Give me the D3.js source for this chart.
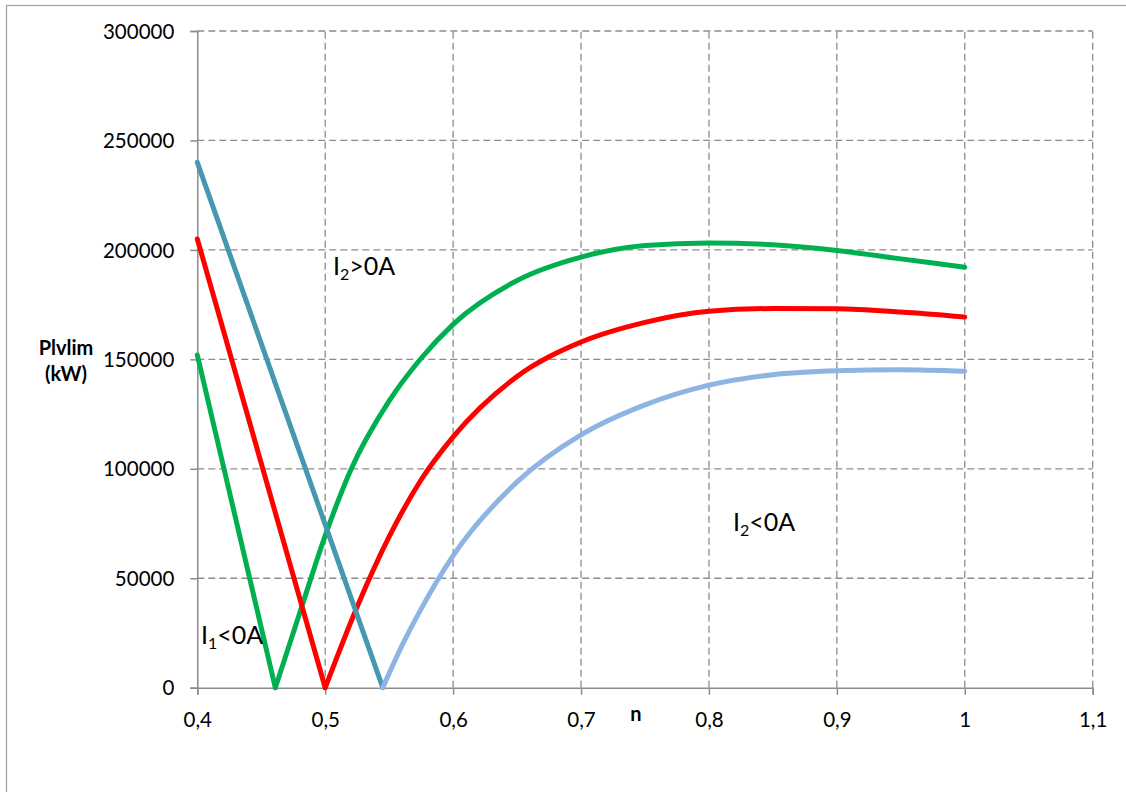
<!DOCTYPE html>
<meta charset="utf-8">
<style>
  body { margin: 0; background: #fff; }
  svg { font-family: Lato, "Open Sans", sans-serif; }
</style>
<body>
<script src="https://cdnjs.cloudflare.com/ajax/libs/d3/7.8.5/d3.min.js"></script>
<script>

    // axis ticks
    var xTicks = [0.4, 0.5, 0.6, 0.7, 0.8, 0.9, 1.0, 1.1];
    var xTickLabels = ["0,4", "0,5", "0,6", "0,7", "0,8", "0,9", "1", "1,1"];
    var yTicks = [0, 50000, 100000, 150000, 200000, 250000, 300000];

    // green series
    var greenFallN = [0.4, 0.461];
    var greenFallP = [152000, 0];
    var greenRiseN = [0.461, 0.48, 0.5, 0.52, 0.55, 0.575, 0.6, 0.65, 0.7, 0.75, 0.8, 0.85, 0.9, 0.95, 1.0];
    var greenRiseP = [0, 34000, 69500, 99500, 131000, 150500, 166000, 186000, 196700, 202000, 203200, 202300, 199700, 195900, 192100];

    // red series
    var redFallN = [0.4, 0.5];
    var redFallP = [205000, 0];
    var redRiseN = [0.5, 0.525, 0.55, 0.575, 0.6, 0.65, 0.7, 0.75, 0.8, 0.85, 0.9, 0.95, 1.0];
    var redRiseP = [0, 37000, 69000, 95000, 114600, 142200, 157900, 166900, 172000, 173200, 173100, 171600, 169300];

    // teal falling / light blue rising
    var tealFallN = [0.4, 0.545];
    var tealFallP = [240000, 0];
    var blueRiseN = [0.545, 0.56, 0.575, 0.6, 0.65, 0.7, 0.75, 0.8, 0.85, 0.9, 0.95, 1.0];
    var blueRiseP = [0, 19200, 36000, 60300, 94000, 115500, 129200, 138200, 143000, 144800, 145300, 144600];

    var w = 1126, h = 792;
    var plotLeft = 197.3, plotRight = 1092.7, plotTop = 31, plotBottom = 687.7;

    var svg = d3.select("body")
            .append("svg")
            .attr("width", w)
            .attr("height", h);

    // chart border
    svg.append("rect")
            .attr("x", 6.5).attr("y", 5.5)
            .attr("width", 1400).attr("height", 1000)
            .attr("fill", "none")
            .attr("stroke", "#a6a6a6")
            .attr("stroke-width", 1.3);

    var x = d3.scaleLinear().domain([0.4, 1.1]).range([plotLeft, plotRight]);
    var y = d3.scaleLinear().domain([0, 300000]).range([plotBottom, plotTop]);

    // grid
    var grid = svg.append("g")
            .attr("stroke", "#8c8c8c")
            .attr("stroke-width", 1.3)
            .attr("stroke-dasharray", "7,4");

    grid.selectAll(".gy")
            .data(yTicks.slice(1))
            .enter()
            .append("line")
            .attr("x1", x(0.4)).attr("x2", x(1.1))
            .attr("y1", function(d) { return y(d); })
            .attr("y2", function(d) { return y(d); });

    grid.selectAll(".gx")
            .data(xTicks.slice(1))
            .enter()
            .append("line")
            .attr("y1", y(0)).attr("y2", y(300000))
            .attr("x1", function(d) { return x(d); })
            .attr("x2", function(d) { return x(d); });

    // axes
    var yAxis = svg.append("g")
            .attr("transform", "translate(" + plotLeft + ",0)")
            .call(d3.axisLeft(y).tickValues(yTicks).tickSize(7).tickFormat(d3.format("d")));

    var xAxis = svg.append("g")
            .attr("transform", "translate(0," + plotBottom + ")")
            .call(d3.axisBottom(x).tickValues(xTicks).tickSize(7)
                    .tickFormat(function(d, i) { return xTickLabels[i]; }));

    svg.selectAll(".domain, .tick line")
            .attr("stroke", "#8c8c8c")
            .attr("stroke-width", 1.5);

    yAxis.selectAll("text")
            .attr("x", -23)
            .attr("dy", "0.35em")
            .style("font-size", "20.5px")
            .style("font-family", "Lato")
            .attr("fill", "#000");

    xAxis.selectAll("text")
            .attr("y", 39)
            .attr("dy", 0)
            .style("font-size", "20.5px")
            .style("font-family", "Lato")
            .attr("fill", "#000");

    // axis titles
    svg.append("text")
            .attr("x", 636).attr("y", 721)
            .attr("text-anchor", "middle")
            .attr("font-weight", "bold")
            .attr("font-size", 20)
            .text("n");

    var yTitle = svg.append("text")
            .attr("text-anchor", "middle")
            .attr("font-weight", "bold")
            .attr("font-size", 20);
    yTitle.append("tspan").attr("x", 66).attr("y", 355).text("Plvlim");
    yTitle.append("tspan").attr("x", 66).attr("y", 381).text("(kW)");

    // series
    function zip(ns, ps) {
        return ns.map(function(n, i) { return [n, ps[i]]; });
    }

    var straight = d3.line()
            .x(function(d) { return x(d[0]); })
            .y(function(d) { return y(d[1]); });

    var smooth = d3.line()
            .x(function(d) { return x(d[0]); })
            .y(function(d) { return y(d[1]); })
            .curve(d3.curveMonotoneX);

    var series = [
        { pts: zip(greenFallN, greenFallP), gen: straight, color: "#00b050" },
        { pts: zip(greenRiseN, greenRiseP), gen: smooth, color: "#00b050" },
        { pts: zip(redFallN, redFallP), gen: straight, color: "#ff0000" },
        { pts: zip(redRiseN, redRiseP), gen: smooth, color: "#ff0000" },
        { pts: zip(tealFallN, tealFallP), gen: straight, color: "#4698b0" },
        { pts: zip(blueRiseN, blueRiseP), gen: smooth, color: "#8db4e2" }
    ];

    svg.selectAll(".series")
            .data(series)
            .enter()
            .append("path")
            .attr("class", "series")
            .attr("d", function(d) { return d.gen(d.pts); })
            .attr("fill", "none")
            .attr("stroke", function(d) { return d.color; })
            .attr("stroke-width", 5)
            .attr("stroke-linejoin", "round")
            .attr("stroke-linecap", "round");

    // region labels
    var notes = [
        { x: 333, y: 275, sub: "2", rest: ">0A" },
        { x: 733, y: 531, sub: "2", rest: "<0A" },
        { x: 201, y: 644, sub: "1", rest: "<0A" }
    ];

    notes.forEach(function(d) {
        var t = svg.append("text")
                .attr("x", d.x).attr("y", d.y)
                .attr("font-size", 25)
                .attr("fill", "#000");
        t.append("tspan").text("I");
        t.append("tspan").attr("font-size", 16).attr("dy", 5).text(d.sub);
        t.append("tspan").attr("dy", -5).text(d.rest);
    });

</script>
